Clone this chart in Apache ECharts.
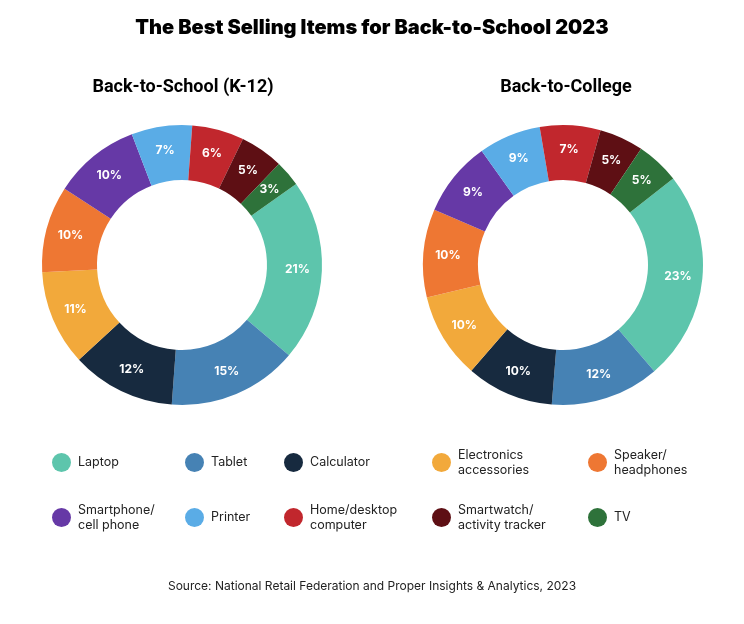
<!DOCTYPE html>
<html>
<head>
<meta charset="utf-8">
<script src="https://cdn.jsdelivr.net/npm/echarts@6/dist/echarts.min.js"></script>
<style>
html,body{margin:0;padding:0;background:#fff;}
#c{width:744px;height:624px;}
</style>
</head>
<body>
<div id="c"></div>
<script>
// Categories (clockwise order in each donut)
var categories = ['Laptop', 'Tablet', 'Calculator', 'Electronics accessories', 'Speaker/ headphones',
  'Smartphone/ cell phone', 'Printer', 'Home/desktop computer', 'Smartwatch/ activity tracker', 'TV'];
var legendText = ['Laptop', 'Tablet', 'Calculator', 'Electronics\naccessories', 'Speaker/\nheadphones',
  'Smartphone/\ncell phone', 'Printer', 'Home/desktop\ncomputer', 'Smartwatch/\nactivity tracker', 'TV'];
var colors = ['#5DC5AC', '#4682B4', '#172A3F', '#F2A93B', '#EE7733', '#6639A6', '#5AACE6', '#C1272D', '#5E0F14', '#2E723A'];

// Back-to-School (K-12) shares, %
var k12Values = [21, 15, 12, 11, 10, 10, 7, 6, 5, 3];
var k12Labels = ['21%', '15%', '12%', '11%', '10%', '10%', '7%', '6%', '5%', '3%'];
// Back-to-College shares as drawn (arc sizes), with the printed labels
var collegeValues = [24.3, 12.6, 10.1, 9.9, 10.2, 8.7, 7.2, 7.0, 5.1, 5.0];
var collegeLabels = ['23%', '12%', '10%', '10%', '10%', '9%', '9%', '7%', '5%', '5%'];

var titleText = 'The Best Selling Items for Back-to-School 2023';
var leftTitle = 'Back-to-School (K-12)';
var rightTitle = 'Back-to-College';
var sourceText = 'Source: National Retail Federation and Proper Insights & Analytics, 2023';

function buildData(values, labels) {
  return categories.map(function (n, i) {
    return { name: n, value: values[i], lbl: labels[i], itemStyle: { color: colors[i] } };
  });
}

var legendCols = [52, 185, 284, 432, 588];
var legendRowsCenter = [462.5, 517.5];
var legends = categories.map(function (n, i) {
  var twoLine = legendText[i].indexOf('\n') >= 0;
  var half = twoLine ? 15 : 9.5;
  return {
    data: [n],
    left: legendCols[i % 5],
    top: legendRowsCenter[Math.floor(i / 5)] - half,
    padding: 0,
    orient: 'horizontal',
    icon: 'circle',
    itemWidth: 19,
    itemHeight: 19,
    itemGap: 0,
    selectedMode: false,
    formatter: function () { return legendText[i]; },
    textStyle: { fontFamily: 'Inter', fontSize: 12.5, color: '#222', lineHeight: 15, padding: [0, 0, 0, 2] }
  };
});

var chart = echarts.init(document.getElementById('c'), null, { renderer: 'canvas' });
var labelCfg = {
  show: true,
  position: 'inside',
  formatter: function (p) { return p.data.lbl; },
  color: '#fff',
  fontFamily: 'Inter',
  fontWeight: 'bold',
  fontSize: 12
};
chart.setOption({
  animation: false,
  backgroundColor: '#fff',
  title: [
    { text: titleText, left: 'center', top: 13,
      textStyle: { fontFamily: 'Inter', fontWeight: 900, fontSize: 20, color: '#000' } },
    { text: leftTitle, left: 178, textAlign: 'center', top: 73,
      textStyle: { fontFamily: 'Roboto', fontWeight: 'bold', fontSize: 18, color: '#000' } },
    { text: rightTitle, left: 561, textAlign: 'center', top: 73,
      textStyle: { fontFamily: 'Roboto', fontWeight: 'bold', fontSize: 18, color: '#000' } },
    { text: sourceText, left: 'center', top: 575,
      textStyle: { fontFamily: 'Inter', fontWeight: 'normal', fontSize: 12, color: '#222' } }
  ],
  legend: legends,
  series: [
    {
      type: 'pie', name: leftTitle,
      center: [182, 265], radius: [85, 140],
      startAngle: 35.4, clockwise: true,
      label: labelCfg, labelLine: { show: false },
      emphasis: { disabled: true },
      data: buildData(k12Values, k12Labels)
    },
    {
      type: 'pie', name: rightTitle,
      center: [563, 265], radius: [85, 140],
      startAngle: 38.1, clockwise: true,
      label: labelCfg, labelLine: { show: false },
      emphasis: { disabled: true },
      data: buildData(collegeValues, collegeLabels)
    }
  ]
});
</script>
</body>
</html>
